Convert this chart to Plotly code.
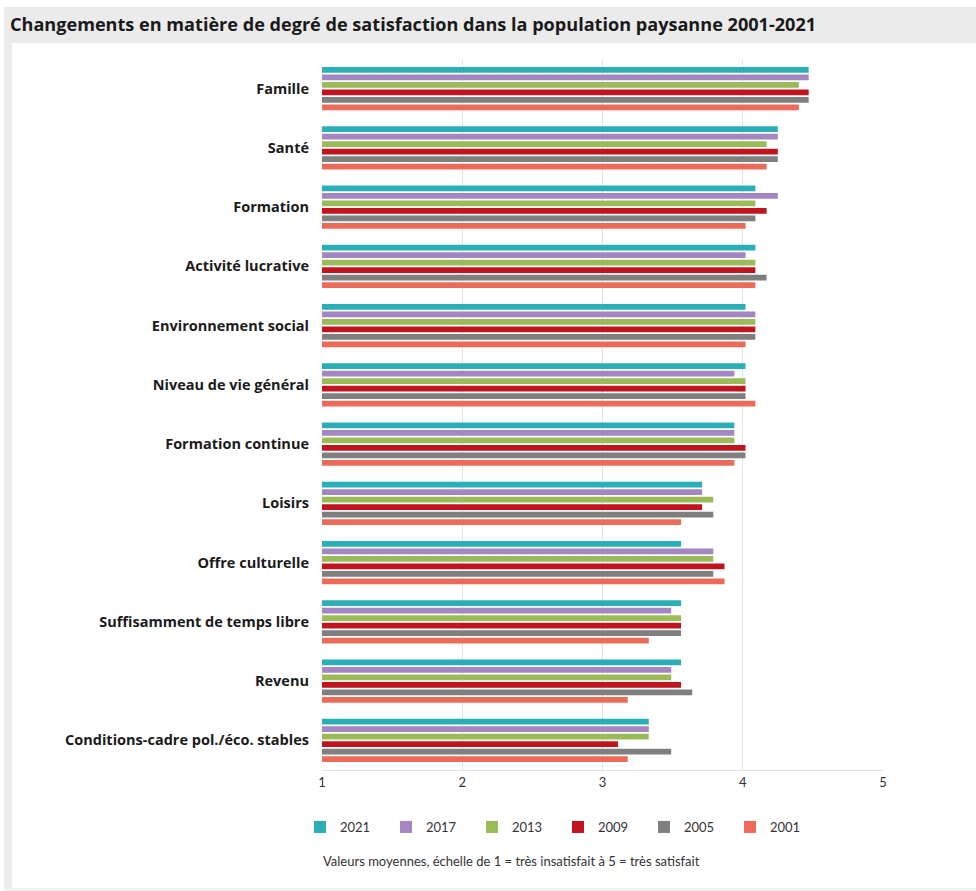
import plotly.graph_objects as go

categories = ["Famille", "Santé", "Formation", "Activité lucrative", "Environnement social",
              "Niveau de vie général", "Formation continue", "Loisirs", "Offre culturelle",
              "Suffisamment de temps libre", "Revenu", "Conditions-cadre pol./éco. stables"]

years = ["2021", "2017", "2013", "2009", "2005", "2001"]

v2021 = [4.47, 4.25, 4.09, 4.09, 4.02, 4.02, 3.94, 3.71, 3.56, 3.56, 3.56, 3.33]
v2017 = [4.47, 4.25, 4.25, 4.02, 4.09, 3.94, 3.94, 3.71, 3.79, 3.49, 3.49, 3.33]
v2013 = [4.40, 4.17, 4.09, 4.09, 4.09, 4.02, 3.94, 3.79, 3.79, 3.56, 3.49, 3.33]
v2009 = [4.47, 4.25, 4.17, 4.09, 4.09, 4.02, 4.02, 3.71, 3.87, 3.56, 3.56, 3.11]
v2005 = [4.47, 4.25, 4.09, 4.17, 4.09, 4.02, 4.02, 3.79, 3.79, 3.56, 3.64, 3.49]
v2001 = [4.40, 4.17, 4.02, 4.09, 4.02, 4.09, 3.94, 3.56, 3.87, 3.33, 3.18, 3.18]

series = [v2021, v2017, v2013, v2009, v2005, v2001]
colors = ["#2aafb7", "#a386c2", "#9bbb59", "#c0141f", "#7f7f7f", "#ec6a5a"]

x_ticks = [1, 2, 3, 4, 5]

W, H = 976, 891
ML, MR, MT, MB = 322, 93, 59, 121
PW, PH = W - ML - MR, H - MT - MB


def px(x):
    return (x - ML) / PW


def py(y):
    return (H - MB - y) / PH


fig = go.Figure()
for name, vals, col in zip(years, series, colors):
    fig.add_trace(go.Bar(
        y=categories, x=[v - 1 for v in vals], base=1, name=name, orientation="h",
        marker=dict(color=col, line=dict(width=0)),
        hovertemplate="%{y}: %{x}<extra>" + name + "</extra>",
    ))

shapes = [
    # title band
    dict(type="rect", xref="paper", yref="paper", x0=px(4), x1=px(976), y0=py(43), y1=py(7),
         fillcolor="#ebebeb", line=dict(width=0), layer="below"),
    # left strip
    dict(type="rect", xref="paper", yref="paper", x0=px(4), x1=px(12), y0=py(889), y1=py(7),
         fillcolor="#ebebeb", line=dict(width=0), layer="below"),
    # bottom line
    dict(type="rect", xref="paper", yref="paper", x0=px(4), x1=px(976), y0=py(891), y1=py(888),
         fillcolor="#efefef", line=dict(width=0), layer="below"),
    # keep the right edge white
    dict(type="rect", xref="paper", yref="paper", x0=px(950), x1=px(977), y0=py(887), y1=py(44),
         fillcolor="white", line=dict(width=0), layer="above"),
]

fig.update_layout(
    width=W, height=H,
    margin=dict(l=ML, r=MR, t=MT, b=MB),
    paper_bgcolor="white", plot_bgcolor="white",
    barmode="group", bargap=0.245, bargroupgap=0.23,
    font=dict(family="Lato, 'Noto Sans', sans-serif", color="#222"),
    title=dict(
        text="<b>Changements en matière de degré de satisfaction dans la population paysanne 2001-2021</b>",
        x=10 / W, y=1 - 25 / H, xref="container", yref="container",
        xanchor="left", yanchor="middle",
        font=dict(size=18.1, color="#1a1a1a", family="'Open Sans', sans-serif"),
    ),
    xaxis=dict(range=[1, 5], tickvals=x_ticks, ticktext=[str(t) for t in x_ticks],
               showgrid=True, gridcolor="#e3e3e3", gridwidth=1, zeroline=False,
               showline=True, linecolor="#e3e3e3", linewidth=1,
               ticks="", tickfont=dict(size=13, color="#333"), fixedrange=True),
    yaxis=dict(autorange="reversed", showgrid=False, zeroline=False, showline=False,
               ticks="", ticklabelstandoff=12,
               tickfont=dict(size=14.5, color="#1a1a1a", family="'Open Sans', sans-serif", weight="bold"),
               fixedrange=True),
    legend=dict(orientation="h", x=px(300), y=py(812), xanchor="left", yanchor="top",
                entrywidth=41, entrywidthmode="pixels", traceorder="normal",
                font=dict(size=13, color="#333"), itemwidth=30, bgcolor="rgba(0,0,0,0)"),
    shapes=shapes,
    annotations=[dict(
        text="Valeurs moyennes, échelle de 1 = très insatisfait à 5 = très satisfait",
        xref="paper", yref="paper", x=px(321), y=py(861), xanchor="left", yanchor="middle",
        showarrow=False, font=dict(size=13, color="#333"),
    )],
)

fig.write_html(
    "out.html", config={"displayModeBar": False},
    post_script=("document.body.style.margin='0';"
                 "document.body.style.overflow='hidden';"
                 "document.documentElement.style.overflow='hidden';"),
)
